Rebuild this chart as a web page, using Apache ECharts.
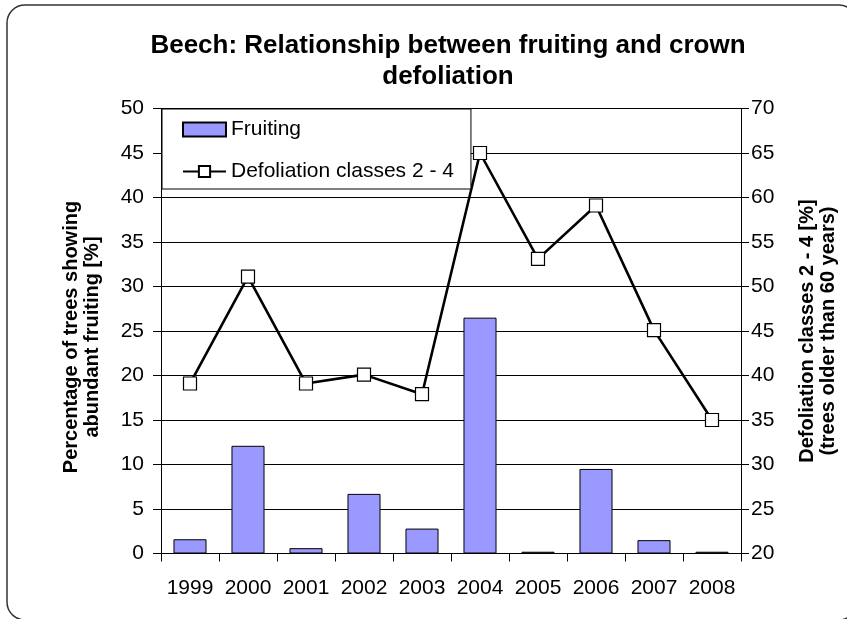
<!DOCTYPE html>
<html>
<head>
<meta charset="utf-8">
<script src="https://cdn.jsdelivr.net/npm/echarts@6/dist/echarts.min.js"></script>
<style>
  html, body { margin: 0; padding: 0; background: #fff; }
  #chart { width: 847px; height: 619px; }
</style>
</head>
<body>
<div id="chart"></div>
<script>
// Beech monitoring: share of trees with abundant fruiting vs. crown defoliation
const years = ['1999', '2000', '2001', '2002', '2003', '2004', '2005', '2006', '2007', '2008'];
const fruiting = [1.6, 12.1, 0.6, 6.7, 2.8, 26.5, 0.2, 9.5, 1.5, 0.2];
const defoliation = [39.1, 51.1, 39.1, 40.1, 37.9, 65, 53.1, 59.1, 45.1, 35];

const FONT = '"Liberation Sans", Arial, sans-serif';
const chart = echarts.init(document.getElementById('chart'), null, { renderer: 'canvas' });

const option = {
  backgroundColor: '#fff',
  animation: false,
  textStyle: { fontFamily: FONT, color: '#000' },
  graphic: [
    {
      // rounded frame around the whole chart
      type: 'rect',
      z: 0,
      silent: true,
      shape: { x: 7, y: 5, width: 850, height: 615, r: 18 },
      style: { fill: 'none', stroke: '#333', lineWidth: 1.5 }
    },
    {
      type: 'text',
      z: 5,
      x: 448,
      y: 30,
      style: {
        text: 'Beech: Relationship between fruiting and crown\ndefoliation',
        font: 'bold 26px ' + FONT,
        fill: '#000',
        align: 'center',
        verticalAlign: 'top',
        lineHeight: 31
      }
    }
  ],
  legend: {
    orient: 'vertical',
    left: 162,
    top: 109,
    padding: [10, 17, 7, 20],
    itemGap: 21,
    itemWidth: 43,
    itemHeight: 14,
    backgroundColor: '#fff',
    borderColor: '#000',
    borderWidth: 1,
    borderRadius: 0,
    textStyle: { fontSize: 21, fontFamily: FONT, color: '#000' },
    data: [
      { name: 'Fruiting', icon: 'rect' },
      { name: 'Defoliation classes 2 - 4' }
    ]
  },
  grid: { left: 161, right: 105, top: 108.5, bottom: 65.5, containLabel: false },
  xAxis: {
    type: 'category',
    data: years,
    boundaryGap: true,
    axisLine: { lineStyle: { color: '#000', width: 1 } },
    axisTick: { show: true, interval: 0, length: 8, lineStyle: { color: '#000' } },
    axisLabel: { interval: 0, hideOverlap: false, fontSize: 21, color: '#000', margin: 24, fontFamily: FONT }
  },
  yAxis: [
    {
      type: 'value',
      position: 'left',
      min: 0, max: 50, interval: 5,
      axisLine: { show: true, lineStyle: { color: '#000', width: 1 } },
      axisTick: { show: true, length: 8, lineStyle: { color: '#000' } },
      splitLine: { show: true, lineStyle: { color: '#000', width: 1 } },
      axisLabel: { fontSize: 21, color: '#000', margin: 17, fontFamily: FONT },
      name: 'Percentage of trees showing\nabundant fruiting [%]',
      nameLocation: 'middle',
      nameRotate: 90,
      nameGap: 58,
      nameTextStyle: {
        fontSize: 20, fontWeight: 'bold', color: '#000', fontFamily: FONT,
        lineHeight: 21, padding: [0, 12, 0, 0]
      }
    },
    {
      type: 'value',
      position: 'right',
      min: 20, max: 70, interval: 5,
      axisLine: { show: true, lineStyle: { color: '#000', width: 1 } },
      axisTick: { show: true, length: 8, lineStyle: { color: '#000' } },
      splitLine: { show: false },
      axisLabel: { fontSize: 21, color: '#000', margin: 10, fontFamily: FONT },
      name: 'Defoliation classes 2 - 4 [%]\n(trees older than 60 years)',
      nameLocation: 'middle',
      nameRotate: 90,
      nameGap: 56,
      nameTextStyle: { fontSize: 20, fontWeight: 'bold', color: '#000', fontFamily: FONT, lineHeight: 21 }
    },
    {
      // inner half of the crossing ticks on the right axis
      type: 'value',
      position: 'right',
      min: 20, max: 70, interval: 5,
      axisLine: { show: false },
      axisTick: { show: true, inside: true, length: 8, lineStyle: { color: '#000' } },
      splitLine: { show: false },
      axisLabel: { show: false }
    }
  ],
  series: [
    {
      name: 'Fruiting',
      type: 'bar',
      yAxisIndex: 0,
      data: fruiting,
      barWidth: '57%',
      itemStyle: { color: '#9999FF', borderColor: '#000', borderWidth: 1 },
      z: 2
    },
    {
      name: 'Defoliation classes 2 - 4',
      type: 'line',
      yAxisIndex: 1,
      data: defoliation,
      symbol: 'rect',
      symbolSize: 13,
      showAllSymbol: true,
      lineStyle: { color: '#000', width: 2.6 },
      itemStyle: { color: '#fff', borderColor: '#000', borderWidth: 1.2 },
      z: 3
    }
  ]
};

chart.setOption(option);
</script>
</body>
</html>
